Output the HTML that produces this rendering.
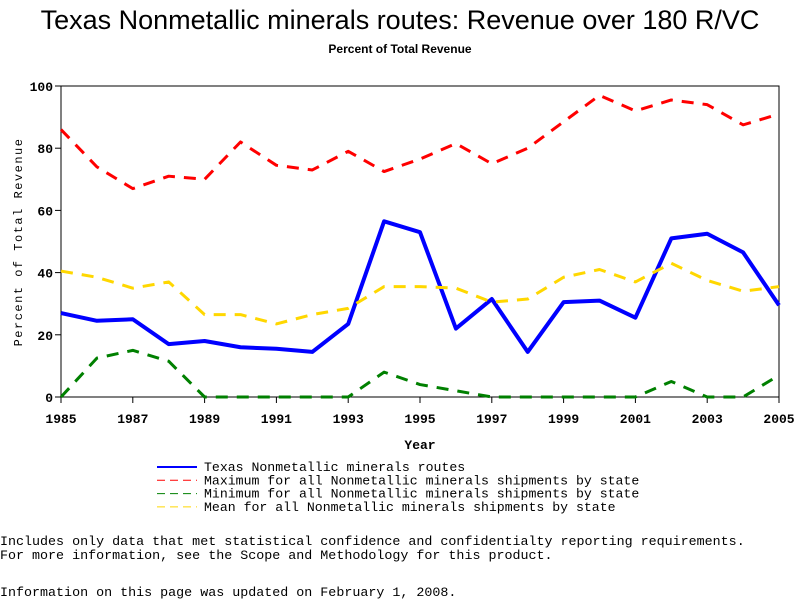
<!DOCTYPE html>
<html><head><meta charset="utf-8"><style>
body{margin:0;background:#fff;width:800px;height:600px;overflow:hidden;position:relative;font-family:"Liberation Sans",sans-serif}
.t{position:absolute;white-space:pre}
.mono{font-family:"Liberation Mono",monospace;font-size:13.35px}
</style></head><body>
<div class="t" style="left:0;width:800px;text-align:center;top:5px;font-size:27px">Texas Nonmetallic minerals routes: Revenue over 180 R/VC</div>
<div class="t" style="left:0;width:800px;text-align:center;top:42px;font-size:12px;font-weight:bold">Percent of Total Revenue</div>
<svg id="chart" width="800" height="600" style="position:absolute;left:0;top:0"></svg>
<div class="t mono" style="left:0;top:536px;line-height:14px">Includes only data that met statistical confidence and confidentialty reporting requirements.
For more information, see the Scope and Methodology for this product.</div>
<div class="t mono" style="left:0;top:586px">Information on this page was updated on February 1, 2008.</div>
<script>
const years=[1985,1986,1987,1988,1989,1990,1991,1992,1993,1994,1995,1996,1997,1998,1999,2000,2001,2002,2003,2004,2005];
const texas=[27,24.5,25,17,18,16,15.5,14.5,23.5,56.5,53,22,31.5,14.5,30.5,31,25.5,51,52.5,46.5,29.5];
const maxV=[86,74,67,71,70,82,74.5,73,79,72.5,76.5,81.5,75,80,88.5,97,92,95.5,94,87.5,91];
const minV=[0,12.5,15,11.5,0,0,0,0,0,8,4,2,0,0,0,0,0,5,0,0,7];
const meanV=[40.5,38.5,35,37,26.5,26.5,23.5,26.5,28.5,35.5,35.5,35,30.5,31.5,38.5,41,37,43,37.5,34,35.5];
const yTicks=[0,20,40,60,80,100];
const xTicks=[1985,1987,1989,1991,1993,1995,1997,1999,2001,2003,2005];
const legendLabels=["Texas Nonmetallic minerals routes","Maximum for all Nonmetallic minerals shipments by state","Minimum for all Nonmetallic minerals shipments by state","Mean for all Nonmetallic minerals shipments by state"];
const X0=61,X1=779,Y0=397,Y1=86;
const xs=y=>X0+(y-1985)/(2005-1985)*(X1-X0);
const ys=v=>Y0-v/100*(Y0-Y1);
const svg=document.getElementById('chart');const NS='http://www.w3.org/2000/svg';
function mk(t,a,txt){const e=document.createElementNS(NS,t);for(const k in a)e.setAttribute(k,a[k]);if(txt!=null)e.textContent=txt;svg.appendChild(e);return e;}
let e=mk('rect',{x:X0,y:Y1,width:X1-X0,height:Y0-Y1,fill:'none',stroke:'#000','stroke-width':1});


yTicks.forEach(v=>{
 let l=mk('line',{x1:X0-6,x2:X0,y1:ys(v),y2:ys(v),stroke:'#000'});
 
 
 let t=mk('text',{x:X0-8,y:ys(v)+5,'text-anchor':'end','font-size':13,'font-weight':'bold','font-family':'Liberation Mono, monospace'},v);
 
 
});
xTicks.forEach(v=>{
 let l=mk('line',{x1:xs(v),x2:xs(v),y1:Y0,y2:Y0+6,stroke:'#000'});
 
 
 let t=mk('text',{x:xs(v),y:Y0+26,'text-anchor':'middle','font-size':13,'font-weight':'bold','font-family':'Liberation Mono, monospace'},v);
 
 
});
e=mk('text',{x:420,y:449,'text-anchor':'middle','font-size':13,'font-weight':'bold','font-family':'Liberation Mono, monospace'},'Year');


e=mk('text',{x:22,y:242,'text-anchor':'middle','font-size':12,'font-family':'Liberation Mono, monospace','letter-spacing':'1.5',transform:'rotate(-90 22 242)'},'Percent of Total Revenue');


const series=[[texas,'#0000ff',4,'','texas-line'],[maxV,'#ff0000',3,'12 9','max-line'],[minV,'#008000',3,'12 9','min-line'],[meanV,'#ffd700',3,'12 9','mean-line']];
series.forEach(s=>{
 let p=mk('polyline',{points:years.map((y,i)=>xs(y)+','+ys(s[0][i])).join(' '),fill:'none',stroke:s[1],'stroke-width':s[2],'stroke-dasharray':s[3],'stroke-linejoin':'round'});
 
 
});
legendLabels.forEach((lab,i)=>{
 const y=467+i*13.3;
 let l=mk('line',{x1:157,x2:197,y1:y,y2:y,stroke:series[i][1],'stroke-width':i==0?2:1,'stroke-dasharray':i==0?'':'8 5'});
 
 
 let t=mk('text',{x:204,y:y+4,'font-size':13.2,'font-family':'Liberation Mono, monospace'},lab);
 
 
});
</script>
</body></html>
